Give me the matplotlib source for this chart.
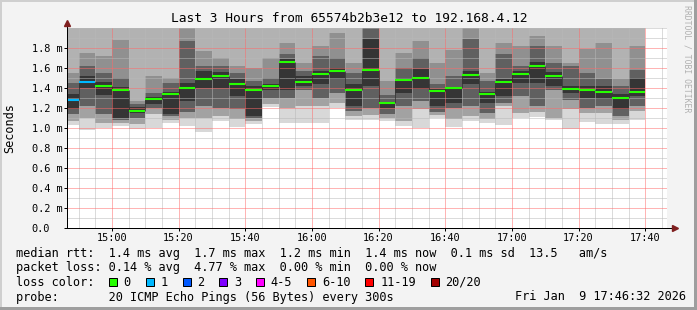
import matplotlib
matplotlib.use("Agg")
import matplotlib.pyplot as plt
import matplotlib.dates as mdates
from matplotlib.patches import Rectangle
from matplotlib.ticker import MultipleLocator
import numpy as np
import pandas as pd

title = "Last 3 Hours from 65574b2b3e12 to 192.168.4.12"

# 5 minute rounds, 20 pings each (values in ms)
bar_start = pd.date_range("2026-01-09 14:45", periods=35, freq="5min")
view_start = pd.Timestamp("2026-01-09 14:46:32")
view_end = pd.Timestamp("2026-01-09 17:46:32")

# smoke band edges, bottom to top
ping_min = [1.03, 0.98, 1.00, 1.02, 0.99, 1.00, 1.05, 1.02, 0.96, 1.07, 1.01, 1.04, 1.21, 1.05, 1.05, 1.05, 1.20, 1.08,
            1.08, 1.07, 1.02, 1.00, 1.10, 1.01, 1.07, 1.05, 1.03, 1.10, 1.11, 1.08, 0.99, 1.06, 1.04, 1.04, 1.08]
low_outer = [1.07, 1.10, 1.05, 1.05, 1.04, 1.14, 1.08, 1.10, 1.10, 1.12, 1.09, 1.07, 1.24, 1.20, 1.22, 1.22, 1.25, 1.12,
             1.13, 1.10, 1.07, 1.19, 1.13, 1.09, 1.12, 1.09, 1.22, 1.15, 1.16, 1.10, 1.19, 1.15, 1.15, 1.08, 1.17]
low_inner = [1.14, 1.22, 1.14, 1.08, 1.10, 1.20, 1.12, 1.16, 1.22, 1.20, 1.19, 1.10, 1.30, 1.30, 1.38, 1.30, 1.35, 1.17,
             1.20, 1.14, 1.22, 1.27, 1.16, 1.20, 1.22, 1.15, 1.25, 1.32, 1.22, 1.38, 1.28, 1.20, 1.22, 1.12, 1.22]
core_low = [1.19, 1.40, 1.33, 1.10, 1.15, 1.24, 1.14, 1.27, 1.40, 1.40, 1.32, 1.12, 1.38, 1.38, 1.42, 1.44, 1.49, 1.22,
            1.42, 1.20, 1.35, 1.39, 1.22, 1.25, 1.44, 1.25, 1.32, 1.45, 1.45, 1.42, 1.35, 1.30, 1.29, 1.19, 1.32]
core_high = [1.34, 1.52, 1.46, 1.41, 1.21, 1.31, 1.36, 1.45, 1.57, 1.56, 1.49, 1.42, 1.44, 1.69, 1.52, 1.57, 1.60, 1.44,
             1.89, 1.26, 1.50, 1.59, 1.39, 1.40, 1.57, 1.36, 1.49, 1.57, 1.66, 1.56, 1.42, 1.42, 1.42, 1.34, 1.50]
high_inner = [1.45, 1.62, 1.55, 1.50, 1.24, 1.35, 1.45, 1.87, 1.62, 1.62, 1.55, 1.47, 1.50, 1.74, 1.57, 1.72, 1.70, 1.55,
              2.00, 1.33, 1.60, 1.70, 1.44, 1.52, 1.89, 1.47, 1.74, 1.62, 1.82, 1.65, 1.62, 1.55, 1.49, 1.42, 1.58]
high_outer = [1.55, 1.75, 1.72, 1.88, 1.27, 1.52, 1.50, 2.10, 1.77, 1.70, 1.62, 1.60, 1.70, 1.85, 1.65, 1.82, 1.95, 1.65,
              2.10, 1.47, 1.75, 1.87, 1.65, 1.78, 2.10, 1.55, 1.85, 1.82, 1.92, 1.82, 1.65, 1.79, 1.85, 1.49, 1.82]
ping_max = [2.10, 2.10, 2.10, 2.10, 2.10, 2.10, 2.10, 2.10, 2.10, 2.10, 2.10, 2.10, 2.10, 2.10, 2.10, 2.10, 2.10, 2.10,
            2.10, 2.10, 2.10, 2.10, 2.10, 2.10, 2.10, 2.10, 2.10, 2.10, 2.10, 2.10, 2.10, 2.10, 2.10, 2.10, 2.10]
median = [1.277, 1.463, 1.42, 1.383, 1.173, 1.293, 1.34, 1.403, 1.493, 1.523, 1.443, 1.383, 1.423, 1.663, 1.457, 1.543,
          1.573, 1.383, 1.58, 1.253, 1.48, 1.503, 1.373, 1.40, 1.533, 1.34, 1.463, 1.543, 1.623, 1.52, 1.393, 1.38,
          1.363, 1.30, 1.363]
lost = [1, 1, 0, 0, 0, 0, 0, 0, 0, 0, 0, 0, 0, 0, 0, 0, 0, 0, 0, 0, 0, 0, 0, 0, 0, 0, 0, 0, 0, 0, 0, 0, 0, 0, 0]

loss_labels = ["0", "1", "2", "3", "4-5", "6-10", "11-19", "20/20"]
loss_colors = ["#26ff00", "#00b8ff", "#0059ff", "#7e00ff", "#ff00ff", "#ff5500", "#ff0000", "#a10000"]

y_ticks = [0.0, 0.2, 0.4, 0.6, 0.8, 1.0, 1.2, 1.4, 1.6, 1.8]
y_tick_labels = ["0.0", "0.2 m", "0.4 m", "0.6 m", "0.8 m", "1.0 m", "1.2 m", "1.4 m", "1.6 m", "1.8 m"]

stat_lines = [
    "median rtt:  1.4 ms avg  1.7 ms max  1.2 ms min  1.4 ms now  0.1 ms sd  13.5   am/s",
    "packet loss: 0.14 % avg  4.77 % max  0.00 % min  0.00 % now",
]
probe_line = "probe:       20 ICMP Echo Pings (56 Bytes) every 300s"
stamp = "Fri Jan  9 17:46:32 2026"

MONO = "DejaVu Sans Mono"
W, H = 697, 310


def main():
    fig = plt.figure(figsize=(W / 100, H / 100), dpi=100, facecolor="#f3f3f3")
    ax = fig.add_axes([67 / W, (H - 228) / H, 600 / W, 200 / H])
    ax.set_facecolor("white")

    x = mdates.date2num(bar_start.to_pydatetime())
    width = 5 / 1440

    # smoke
    edges = [ping_min, low_outer, low_inner, core_low, core_high, high_inner, high_outer, ping_max]
    greys = ["#d8d8d8", "#a2a2a2", "#606060", "#353535", "#606060", "#909090", "#b2b2b2"]
    for lo, hi, c in zip(edges[:-1], edges[1:], greys):
        lo = np.array(lo)
        hi = np.array(hi)
        ax.bar(x, hi - lo, bottom=lo, width=width, align="edge", color=c, linewidth=0, zorder=1)

    # median steps
    ax.vlines(x[1:], median[:-1], median[1:], colors="black", lw=0.72, alpha=0.55, zorder=3)
    ax.hlines(median, x, x + width, colors=[loss_colors[l] for l in lost], lw=1.5, zorder=4,
              capstyle="butt")

    ax.set_xlim(mdates.date2num(view_start), mdates.date2num(view_end))
    ax.set_ylim(0, 2.0)

    ax.xaxis.set_major_locator(mdates.MinuteLocator(byminute=range(0, 60, 20)))
    ax.xaxis.set_minor_locator(mdates.MinuteLocator(byminute=range(0, 60, 5)))
    ax.xaxis.set_major_formatter(mdates.DateFormatter("%H:%M"))
    ax.set_yticks(y_ticks)
    ax.set_yticklabels(y_tick_labels, ha="left")
    ax.yaxis.set_minor_locator(MultipleLocator(0.1))

    # dotted rrdtool grid, drawn as half-transparent hairlines
    ax.set_axisbelow(False)
    ax.grid(which="minor", color="#b8b8b8", lw=0.72, alpha=0.5)
    ax.grid(which="major", color="#ff6a6a", lw=0.72, alpha=0.5)

    ax.tick_params(which="major", length=2, width=0.72, color="black", labelsize=7.4, direction="out")
    ax.tick_params(which="minor", length=0)
    ax.tick_params(axis="y", pad=23.5)
    ax.tick_params(axis="x", pad=1.5)
    for lab in ax.get_xticklabels() + ax.get_yticklabels():
        lab.set_family(MONO)

    for s in ax.spines.values():
        s.set_visible(False)
    # axes with arrows
    ax.plot([0, 0], [0, 1.02], transform=ax.transAxes, color="black", lw=0.72, clip_on=False, zorder=5)
    ax.plot([0, 1.012], [0, 0], transform=ax.transAxes, color="black", lw=0.72, clip_on=False, zorder=5)
    ax.plot([0], [1.025], transform=ax.transAxes, marker="^", ms=4, color="#7f1f1f", clip_on=False, zorder=6)
    ax.plot([1.014], [0], transform=ax.transAxes, marker=">", ms=4, color="#7f1f1f", clip_on=False, zorder=6)

    # texts
    fig.text(349 / W, 1 - 19 / H, title, ha="center", va="center", family=MONO, fontsize=9.3)
    fig.text(10 / W, 1 - 128 / H, "Seconds", rotation=90, ha="center", va="center", family=MONO, fontsize=8.6)
    fig.text(687 / W, 1 - 5 / H, "RRDTOOL / TOBI OETIKER", rotation=270, ha="center", va="top",
             family=MONO, fontsize=5.9, color="#b0b0b0")

    char_w = 7.17
    rows_y = [254, 268, 282, 297]
    for line, ry in zip(stat_lines, rows_y):
        fig.text(16 / W, 1 - ry / H, line, ha="left", va="center", family=MONO, fontsize=8.6)

    ry = rows_y[2]
    fig.text(16 / W, 1 - ry / H, "loss color:", ha="left", va="center", family=MONO, fontsize=8.6)
    bx = 109.0
    for lab, col in zip(loss_labels, loss_colors):
        fig.add_artist(Rectangle((bx / W, 1 - (ry + 4) / H), 8 / W, 8 / H, transform=fig.transFigure,
                                 facecolor=col, edgecolor="black", lw=0.72))
        lx = bx + 14.7
        fig.text(lx / W, 1 - ry / H, lab, ha="left", va="center", family=MONO, fontsize=8.6)
        bx = lx + len(lab) * char_w + 14.9

    fig.text(16 / W, 1 - rows_y[3] / H, probe_line, ha="left", va="center", family=MONO, fontsize=8.6)
    fig.text(515 / W, 1 - rows_y[3] / H, stamp, ha="left", va="center", family=MONO, fontsize=8.6)

    # frame
    fig.add_artist(Rectangle((0, 0), 2 / W, 1, transform=fig.transFigure, color="#cfcfcf", lw=0))
    fig.add_artist(Rectangle((0, 1 - 2 / H), 1, 2 / H, transform=fig.transFigure, color="#cfcfcf", lw=0))
    fig.add_artist(Rectangle((1 - 3 / W, 0), 3 / W, 1, transform=fig.transFigure, color="#9e9e9e", lw=0))
    fig.add_artist(Rectangle((0, 0), 1, 3 / H, transform=fig.transFigure, color="#9e9e9e", lw=0))

    fig.savefig("out.png", dpi=100, facecolor=fig.get_facecolor())


if __name__ == "__main__":
    main()
